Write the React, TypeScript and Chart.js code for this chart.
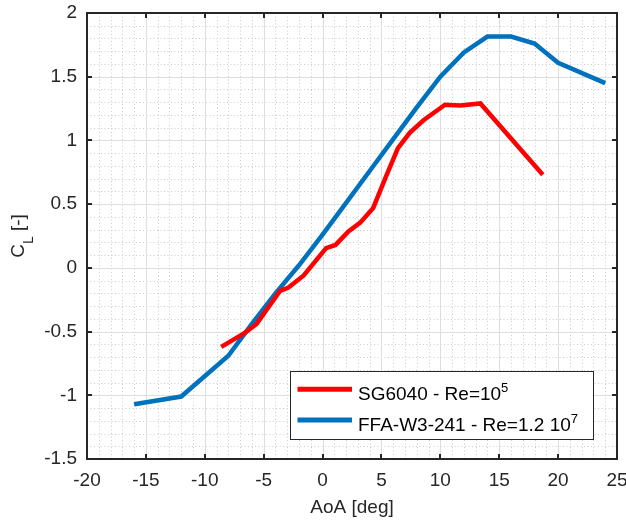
import React, { useEffect, useRef } from "react";
import { Chart, registerables } from "chart.js";

Chart.register(...registerables);

// ---- data ----
const sgAoA = [-8.6, -6.6, -5.6, -3.6, -2.9, -1.6, 0.3, 1.1, 2.2, 3.2, 4.3, 5.4, 6.4, 7.4, 8.6, 10.4, 11.7, 13.4, 18.7];
const sgCL = [-0.62, -0.51, -0.44, -0.18, -0.155, -0.06, 0.155, 0.18, 0.285, 0.355, 0.47, 0.72, 0.94, 1.06, 1.16, 1.28, 1.275, 1.29, 0.73];

const ffaAoA = [-16, -12, -8, -6, -4, -2, 0, 2, 4, 6, 8, 10, 12, 14, 16, 18, 20, 24];
const ffaCL = [-1.07, -1.01, -0.69, -0.44, -0.2, 0.02, 0.26, 0.51, 0.76, 1.01, 1.26, 1.5, 1.69, 1.815, 1.815, 1.76, 1.61, 1.45];

const seriesLabels = ["SG6040 - Re=10", "FFA-W3-241 - Re=1.2 10"];
const seriesExponents = ["5", "7"];
const seriesColors = ["#ff0000", "#0072bd"];

const xMin = -20, xMax = 25, xStep = 5;
const yMin = -1.5, yMax = 2, yStep = 0.5;
const xTitle = "AoA [deg]";
const yTitleMain = "C";
const yTitleSub = "L";
const yTitleRest = " [-]";

const FONT = '"Liberation Sans", Arial, Helvetica, sans-serif';
const TEXT = "#262626";

const fmt = (v: number) => String(Math.round(v * 1000) / 1000);

const decorPlugin = {
  id: "decor",
  beforeDatasetsDraw(chart: any) {
    const { ctx, chartArea: a, scales } = chart;
    const xs = scales.x, ys = scales.y;
    ctx.save();
    // minor grid (dotted)
    ctx.strokeStyle = "#cccccc";
    ctx.lineWidth = 1;
    ctx.setLineDash([1, 2.5]);
    for (let i = 0; i <= (xMax - xMin); i++) {
      const v = xMin + i;
      if (Math.abs(v % xStep) < 1e-9) continue;
      const px = Math.round(xs.getPixelForValue(v)) + 0.5;
      ctx.beginPath(); ctx.moveTo(px, a.top); ctx.lineTo(px, a.bottom); ctx.stroke();
    }
    const nMinorY = Math.round((yMax - yMin) / 0.1);
    for (let i = 0; i <= nMinorY; i++) {
      const v = yMin + i * 0.1;
      if (i % 5 === 0) continue;
      const py = Math.round(ys.getPixelForValue(v)) + 0.5;
      ctx.beginPath(); ctx.moveTo(a.left, py); ctx.lineTo(a.right, py); ctx.stroke();
    }
    // major grid
    ctx.setLineDash([]);
    ctx.strokeStyle = "#dedede";
    for (let v = xMin + xStep; v < xMax; v += xStep) {
      const px = Math.round(xs.getPixelForValue(v)) + 0.5;
      ctx.beginPath(); ctx.moveTo(px, a.top); ctx.lineTo(px, a.bottom); ctx.stroke();
    }
    for (let i = 1; i < Math.round((yMax - yMin) / yStep); i++) {
      const v = yMin + i * yStep;
      const py = Math.round(ys.getPixelForValue(v)) + 0.5;
      ctx.beginPath(); ctx.moveTo(a.left, py); ctx.lineTo(a.right, py); ctx.stroke();
    }
    ctx.restore();
  },
  afterDraw(chart: any) {
    const { ctx, chartArea: a, scales } = chart;
    const xs = scales.x, ys = scales.y;
    ctx.save();
    // box
    ctx.strokeStyle = TEXT;
    ctx.lineWidth = 2;
    ctx.strokeRect(a.left, a.top, a.right - a.left, a.bottom - a.top);
    // inward ticks
    const tl = 5;
    ctx.beginPath();
    for (let v = xMin + xStep; v < xMax; v += xStep) {
      const px = Math.round(xs.getPixelForValue(v));
      ctx.moveTo(px, a.bottom); ctx.lineTo(px, a.bottom - tl);
      ctx.moveTo(px, a.top); ctx.lineTo(px, a.top + tl);
    }
    for (let i = 1; i < Math.round((yMax - yMin) / yStep); i++) {
      const py = Math.round(ys.getPixelForValue(yMin + i * yStep));
      ctx.moveTo(a.left, py); ctx.lineTo(a.left + tl, py);
      ctx.moveTo(a.right, py); ctx.lineTo(a.right - tl, py);
    }
    ctx.stroke();

    // y title with subscript
    ctx.fillStyle = TEXT;
    ctx.textBaseline = "alphabetic";
    ctx.textAlign = "left";
    const big = `19px ${FONT}`;
    const small = `14px ${FONT}`;
    ctx.font = big;
    const wC = ctx.measureText(yTitleMain).width;
    const wR = ctx.measureText(yTitleRest).width;
    ctx.font = small;
    const wL = ctx.measureText(yTitleSub).width;
    const total = wC + wL + wR;
    ctx.save();
    ctx.translate(23.5, (a.top + a.bottom) / 2);
    ctx.rotate(-Math.PI / 2);
    let x0 = -total / 2;
    ctx.font = big;
    ctx.fillText(yTitleMain, x0, 0);
    x0 += wC;
    ctx.font = small;
    ctx.fillText(yTitleSub, x0, 9);
    x0 += wL;
    ctx.font = big;
    ctx.fillText(yTitleRest, x0, 0);
    ctx.restore();

    // legend
    const lx = 290, ly = 371, lw = 303, lh = 68;
    ctx.fillStyle = "#ffffff";
    ctx.fillRect(lx, ly, lw, lh);
    ctx.strokeStyle = TEXT;
    ctx.lineWidth = 1;
    ctx.strokeRect(lx + 0.5, ly + 0.5, lw, lh);
    const rowsY = [389.3, 420];
    for (let i = 0; i < seriesLabels.length; i++) {
      const yy = rowsY[i];
      ctx.strokeStyle = seriesColors[i];
      ctx.lineWidth = 5;
      ctx.beginPath();
      ctx.moveTo(297.5, yy);
      ctx.lineTo(352, yy);
      ctx.stroke();
      ctx.fillStyle = "#000000";
      ctx.font = big;
      ctx.fillText(seriesLabels[i], 358, yy + 10.5);
      const w = ctx.measureText(seriesLabels[i]).width;
      ctx.font = `13px ${FONT}`;
      ctx.fillText(seriesExponents[i], 358 + w, yy + 3);
    }
    ctx.restore();
  },
};

export default function App() {
  const ref = useRef<HTMLCanvasElement>(null);
  useEffect(() => {
    if (!ref.current) return;
    const mk = (xs: number[], ys: number[]) => xs.map((x, i) => ({ x, y: ys[i] }));
    const chart = new Chart(ref.current, {
      type: "line",
      data: {
        datasets: [
          {
            label: seriesLabels[0],
            data: mk(sgAoA, sgCL),
            borderColor: seriesColors[0],
            borderWidth: 4.5,
            pointRadius: 0,
            fill: false,
            tension: 0,
          },
          {
            label: seriesLabels[1],
            data: mk(ffaAoA, ffaCL),
            borderColor: seriesColors[1],
            borderWidth: 4.5,
            pointRadius: 0,
            fill: false,
            tension: 0,
          },
        ],
      },
      options: {
        animation: false,
        responsive: false,
        devicePixelRatio: 1,
        layout: { padding: { top: 13, right: 9, bottom: 0, left: 0 } },
        plugins: { legend: { display: false }, tooltip: { enabled: false } },
        scales: {
          x: {
            type: "linear",
            min: xMin,
            max: xMax,
            ticks: {
              stepSize: xStep,
              color: TEXT,
              font: { family: FONT, size: 19 },
              padding: 10,
              maxRotation: 0,
              callback: (v: any) => fmt(Number(v)),
            },
            grid: { display: false, drawTicks: false },
            border: { display: false },
            title: {
              display: true,
              text: xTitle,
              color: TEXT,
              font: { family: FONT, size: 19 },
              padding: { top: 0, bottom: 4 },
            },
            afterFit(scale: any) {
              scale.height = 64;
              scale.paddingLeft = 0;
              scale.paddingRight = 0;
            },
          },
          y: {
            type: "linear",
            min: yMin,
            max: yMax,
            ticks: {
              stepSize: yStep,
              color: TEXT,
              font: { family: FONT, size: 19 },
              padding: 10,
              callback: (v: any) => fmt(Number(v)),
            },
            grid: { display: false, drawTicks: false },
            border: { display: false },
            afterFit(scale: any) {
              scale.width = 87;
              scale.paddingTop = 0;
              scale.paddingBottom = 0;
            },
          },
        },
      },
      plugins: [decorPlugin],
    } as any);
    return () => chart.destroy();
  }, []);
  return (
    <div style={{ position: "absolute", left: 0, top: 0, width: 626, height: 523, background: "#fff" }}>
      <canvas ref={ref} width={626} height={523} style={{ display: "block" }} />
    </div>
  );
}
